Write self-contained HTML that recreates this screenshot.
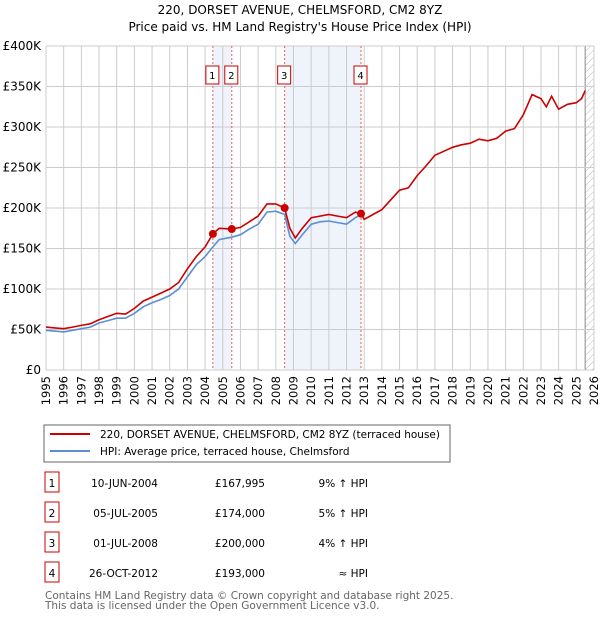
<!DOCTYPE html>
<html><head><meta charset="utf-8"><style>
body{margin:0;background:#fff;font-family:"Liberation Sans","DejaVu Sans",sans-serif;}
svg text{font-family:"DejaVu Sans","Liberation Sans",sans-serif;}
</style></head><body>
<svg id="c" width="600" height="620" xmlns="http://www.w3.org/2000/svg">
<defs><pattern id="hatch" width="5" height="5" patternUnits="userSpaceOnUse" patternTransform="rotate(45)"><line x1="0" y1="0" x2="0" y2="5" stroke="#bbb" stroke-width="1"/></pattern></defs>
<text x="300" y="14" text-anchor="middle" font-size="12">220, DORSET AVENUE, CHELMSFORD, CM2 8YZ</text>
<text x="300" y="31" text-anchor="middle" font-size="12">Price paid vs. HM Land Registry's House Price Index (HPI)</text>
<g id="plot"></g>
<rect x="44" y="425" width="406" height="37" fill="#fff" stroke="#666"/>
<line x1="50" y1="434" x2="90" y2="434" stroke="#cc0000" stroke-width="2"/>
<text x="100" y="438" font-size="10.5">220, DORSET AVENUE, CHELMSFORD, CM2 8YZ (terraced house)</text>
<line x1="50" y1="451" x2="90" y2="451" stroke="#5b8fd0" stroke-width="2"/>
<text x="100" y="455" font-size="10.5">HPI: Average price, terraced house, Chelmsford</text>
<g id="table"></g>
<text x="45" y="599" font-size="10.5" fill="#666">Contains HM Land Registry data © Crown copyright and database right 2025.</text>
<text x="45" y="609" font-size="10.5" fill="#666">This data is licensed under the Open Government Licence v3.0.</text>
</svg>
<script>
const yearTicks=[1995,1996,1997,1998,1999,2000,2001,2002,2003,2004,2005,2006,2007,2008,2009,2010,2011,2012,2013,2014,2015,2016,2017,2018,2019,2020,2021,2022,2023,2024,2025,2026];
const priceTicks=[0,50,100,150,200,250,300,350,400];
const priceLabels=["£0","£50K","£100K","£150K","£200K","£250K","£300K","£350K","£400K"];
const redT=[1995,1995.5,1996,1996.5,1997,1997.5,1998,1998.5,1999,1999.5,2000,2000.5,2001,2001.5,2002,2002.5,2003,2003.5,2004,2004.44,2004.8,2005.5,2006,2006.5,2007,2007.5,2008,2008.5,2008.8,2009.1,2009.5,2010,2010.5,2011,2011.5,2012,2012.5,2012.82,2013,2013.5,2014,2014.5,2015,2015.5,2016,2016.5,2017,2017.5,2018,2018.5,2019,2019.5,2020,2020.5,2021,2021.5,2022,2022.5,2023,2023.3,2023.6,2024,2024.5,2025,2025.3,2025.5];
const redV=[53,52,51,53,55,57,62,66,70,69,76,85,90,95,100,108,125,140,152,168,175,174,176,183,190,205,205,200,175,163,175,188,190,192,190,188,195,193,186,192,198,210,222,225,240,252,265,270,275,278,280,285,283,286,295,298,315,340,335,325,338,322,328,330,335,345];
const blueT=[1995,1995.5,1996,1996.5,1997,1997.5,1998,1998.5,1999,1999.5,2000,2000.5,2001,2001.5,2002,2002.5,2003,2003.5,2004,2004.44,2004.8,2005.5,2006,2006.5,2007,2007.5,2008,2008.5,2008.8,2009.1,2009.5,2010,2010.5,2011,2011.5,2012,2012.5,2012.82];
const blueV=[49,48,47,49,51,53,58,61,64,64,70,78,83,87,92,100,115,130,140,152,161,164,167,174,180,195,196,192,165,156,167,180,183,184,182,180,188,192];
const saleT=[2004.44,2005.51,2008.5,2012.82];
const saleV=[168,174,200,193];
const saleNum=["1","2","3","4"];
const saleDate=["10-JUN-2004","05-JUL-2005","01-JUL-2008","26-OCT-2012"];
const salePrice=["£167,995","£174,000","£200,000","£193,000"];
const saleHpi=["9% ↑ HPI","5% ↑ HPI","4% ↑ HPI","≈ HPI"];
const NS="http://www.w3.org/2000/svg";
const L=46,R=594,T=46,B=370;
const x=t=>L+(t-1995)*(R-L)/31;
const y=v=>B-v*(B-T)/400;
const plot=document.getElementById('plot');
function mk(tag,at,parent){const e=document.createElementNS(NS,tag);for(const k in at)e.setAttribute(k,at[k]);(parent||plot).appendChild(e);return e;}
let bg=mk('rect',{x:L,y:T,width:R-L,height:B-T,fill:'#fff'});


for(let i=0;i<2;i++){const a=i==0?saleT[0]:saleT[2],b=i==0?saleT[1]:saleT[3];
let s=mk('rect',{x:x(a),y:T,width:x(b)-x(a),height:B-T,fill:'#eef3fc'});

}
let h=mk('rect',{x:x(2025.5),y:T,width:R-x(2025.5),height:B-T,fill:'url(#hatch)'});


mk('line',{x1:x(2025.5),y1:T,x2:x(2025.5),y2:B,stroke:'#888'});
yearTicks.forEach(t=>{
let g=mk('line',{x1:x(t),y1:T,x2:x(t),y2:B,stroke:'#ccc'});


let tx=mk('text',{x:0,y:0,'font-size':11.5,'text-anchor':'end',transform:`translate(${x(t)+4},${B+6}) rotate(-90)`});
tx.textContent=t;


});
priceTicks.forEach((v,i)=>{
let g=mk('line',{x1:L,y1:y(v),x2:R,y2:y(v),stroke:'#ccc'});


let tx=mk('text',{x:L-5,y:y(v)+4,'font-size':12,'text-anchor':'end'});
tx.textContent=priceLabels[i];


});
saleT.forEach((t,i)=>{
let d=mk('line',{x1:x(t),y1:T,x2:x(t),y2:B,stroke:'#e06060','stroke-dasharray':'2,2'});


let bx=mk('rect',{x:x(t)-7,y:66,width:13,height:18,fill:'#fff',stroke:'#cc0000'});


let tx=mk('text',{x:x(t)-0.5,y:79,'font-size':10,'text-anchor':'middle'});
tx.textContent=saleNum[i];


});
const path=(ts,vs)=>ts.map((t,i)=>(i?'L':'M')+x(t).toFixed(1)+','+y(vs[i]).toFixed(1)).join('');
let bl=mk('path',{d:path(blueT,blueV),fill:'none',stroke:'#5b8fd0','stroke-width':1.6});


let rl=mk('path',{d:path(redT,redV),fill:'none',stroke:'#cc0000','stroke-width':1.6});


saleT.forEach((t,i)=>{
let c=mk('circle',{cx:x(t),cy:y(saleV[i]),r:4,fill:'#cc0000'});


});
const tb=document.getElementById('table');
saleNum.forEach((n,i)=>{
const yy=483+i*30;
let bx=mk('rect',{x:45,y:yy-11,width:14,height:20,fill:'#fff',stroke:'#cc0000'},tb);


const cells=[[52,n,'middle'],[158,saleDate[i],'end'],[265,salePrice[i],'end'],[368,saleHpi[i],'end']];
cells.forEach(c=>{let tx=mk('text',{x:c[0],y:yy+4,'font-size':10.5,'text-anchor':c[2]},tb);tx.textContent=c[1];

});
});
</script>
</body></html>
